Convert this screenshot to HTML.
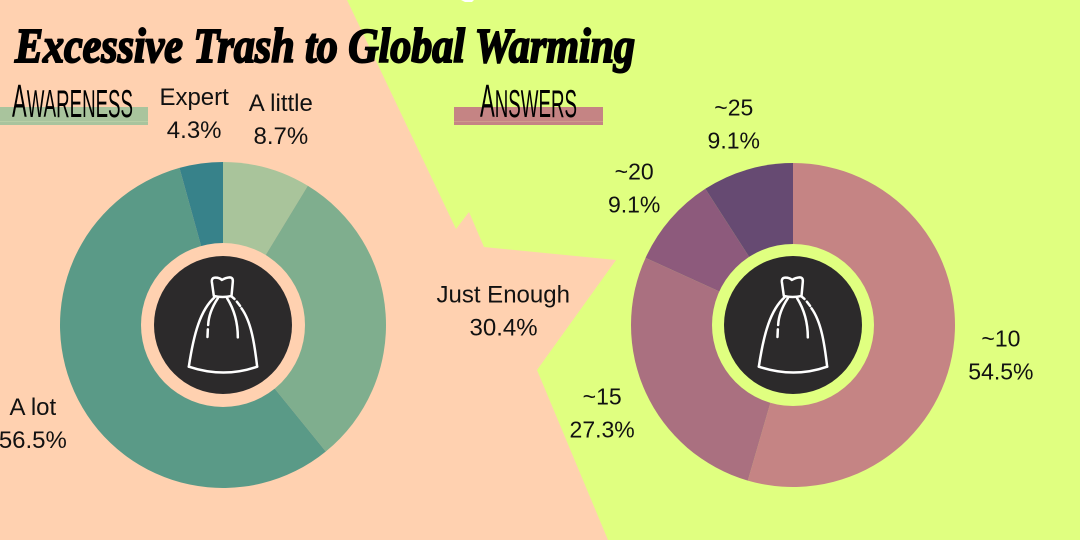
<!DOCTYPE html>
<html>
<head>
<meta charset="utf-8">
<title>Excessive Trash to Global Warming</title>
<style>
html,body{margin:0;padding:0;background:#e0ff80;}
svg{display:block;}
.slice-label{font-family:"Liberation Sans",sans-serif;fill:#111;}
</style>
</head>
<body>
<svg id="chart" xmlns="http://www.w3.org/2000/svg" width="1080" height="540" viewBox="0 0 1080 540">
  <rect width="1080" height="540" fill="#e0ff80"/>
  <polygon fill="#ffd1b0" points="0,0 347,0 456,229 469,212 484,247 616,260 537,370 608,540 0,540"/>
  <polygon fill="#ffffff" points="461,0 474,0 472,2 465,2"/>
  <text x="15" y="62" textLength="620" lengthAdjust="spacingAndGlyphs" font-family="'Liberation Serif',serif" font-weight="bold" font-style="italic" font-size="49" fill="#000" stroke="#000" stroke-width="2">Excessive Trash to Global Warming</text>

  <rect x="0" y="107" width="148" height="18" fill="#a9c49d"/>
  <rect x="0" y="121" width="148" height="1" fill="#b8cfa6"/>
  <text x="12" y="117" textLength="121" lengthAdjust="spacingAndGlyphs" font-family="'Liberation Sans',sans-serif" font-size="39" fill="#000"><tspan font-size="46">A</tspan>WARENESS</text>
  <rect x="454" y="107" width="149" height="18" fill="#c58484"/>
  <rect x="454" y="121" width="149" height="1" fill="#d09a8c"/>
  <text x="480" y="117" textLength="97" lengthAdjust="spacingAndGlyphs" font-family="'Liberation Sans',sans-serif" font-size="39" fill="#000"><tspan font-size="46">A</tspan>NSWERS</text>

  <g id="awareness-donut"></g>
  <g id="answers-donut"></g>
</svg>
<script>
const awarenessCategories = ["A little", "Just Enough", "A lot", "Expert"];
const awarenessValues = [8.7, 30.4, 56.5, 4.3];
const awarenessColors = ["#a9c49b", "#7fae8e", "#5a9a87", "#37828a"];
const answersCategories = ["~10", "~15", "~20", "~25"];
const answersValues = [54.5, 27.3, 9.1, 9.1];
const answersColors = ["#c58484", "#aa7080", "#8d5a7c", "#664a72"];

const SVG_NS = "http://www.w3.org/2000/svg";

function polar(cx, cy, r, frac) {
  const a = frac * 2 * Math.PI;
  return [cx + r * Math.sin(a), cy - r * Math.cos(a)];
}

function drawDonut(group, cfg) {
  const total = cfg.values.reduce(function (s, v) { return s + v; }, 0);
  let run = 0;
  cfg.values.forEach(function (v, i) {
    const f0 = run / total;
    const f1 = (run + v) / total;
    run += v;
    const p0 = polar(cfg.cx, cfg.cy, cfg.outer, f0);
    const p1 = polar(cfg.cx, cfg.cy, cfg.outer, f1);
    const large = f1 - f0 > 0.5 ? 1 : 0;
    const slice = document.createElementNS(SVG_NS, "path");
    slice.setAttribute("d", "M" + cfg.cx + " " + cfg.cy + " L" + p0[0] + " " + p0[1] +
      " A" + cfg.outer + " " + cfg.outer + " 0 " + large + " 1 " + p1[0] + " " + p1[1] + " Z");
    slice.setAttribute("fill", cfg.colors[i]);
    
    
    group.appendChild(slice);

    const mid = (f0 + f1) / 2;
    const c = polar(cfg.cx, cfg.cy, cfg.labelRadius, mid);
    const label = document.createElementNS(SVG_NS, "text");
    label.setAttribute("class", "slice-label");
    label.setAttribute("font-size", cfg.labelSize);
    label.setAttribute("text-anchor", cfg.startAnchored === i ? "start" : "middle");
    
    
    const nameLine = document.createElementNS(SVG_NS, "tspan");
    nameLine.setAttribute("x", c[0]);
    nameLine.setAttribute("y", c[1] - 8);
    nameLine.textContent = cfg.categories[i];
    const valueLine = document.createElementNS(SVG_NS, "tspan");
    valueLine.setAttribute("x", cfg.startAnchored === i ? c[0] + 33 : c[0]);
    valueLine.setAttribute("y", c[1] + 25);
    valueLine.textContent = v.toFixed(1) + "%";
    label.appendChild(nameLine);
    label.appendChild(valueLine);
    group.appendChild(label);
  });

  const ring = document.createElementNS(SVG_NS, "circle");
  ring.setAttribute("cx", cfg.cx);
  ring.setAttribute("cy", cfg.cy);
  ring.setAttribute("r", cfg.ring);
  ring.setAttribute("fill", cfg.ringColor);
  
  
  group.appendChild(ring);

  const hub = document.createElementNS(SVG_NS, "circle");
  hub.setAttribute("cx", cfg.cx);
  hub.setAttribute("cy", cfg.cy);
  hub.setAttribute("r", cfg.hub);
  hub.setAttribute("fill", "#2c2a2b");
  
  
  group.appendChild(hub);

  const dress = document.createElementNS(SVG_NS, "g");
  dress.setAttribute("transform", "translate(" + (cfg.cx - 92.5) + " " + (cfg.cy - 95) + ") scale(0.3333)");
  dress.setAttribute("fill", "none");
  dress.setAttribute("stroke", "#ffffff");
  dress.setAttribute("stroke-width", "7.5");
  dress.setAttribute("stroke-linecap", "round");
  dress.setAttribute("stroke-linejoin", "round");
  
  
  [
    "M250 198 L244 155 Q243 143 255 143 Q268 143 274 150 Q285 143 297 142 Q308 142 307 155 L303 198 Q276 204 250 198 Z",
    "M252 202 C210 240 190 310 175 410",
    "M175 410 Q280 445 380 410",
    "M380 410 C372 340 362 275 333 235",
    "M329 228 L319 215",
    "M312 207 L304 200",
    "M262 205 C242 235 234 265 233 285",
    "M232 298 L231 321",
    "M290 205 C312 240 322 280 322 322"
  ].forEach(function (d) {
    const line = document.createElementNS(SVG_NS, "path");
    line.setAttribute("d", d);
    dress.appendChild(line);
  });
  group.appendChild(dress);
}

drawDonut(document.getElementById("awareness-donut"), {
  categories: awarenessCategories,
  values: awarenessValues,
  colors: awarenessColors,
  cx: 223, cy: 325, outer: 163, ring: 82, hub: 69,
  ringColor: "#ffd1b0",
  labelRadius: 214,
  labelSize: 24,
  startAnchored: 1
});
drawDonut(document.getElementById("answers-donut"), {
  categories: answersCategories,
  values: answersValues,
  colors: answersColors,
  cx: 793, cy: 325, outer: 162, ring: 81, hub: 69,
  ringColor: "#e0ff80",
  labelRadius: 210,
  labelSize: 23,
  startAnchored: -1
});
</script>
</body>
</html>
